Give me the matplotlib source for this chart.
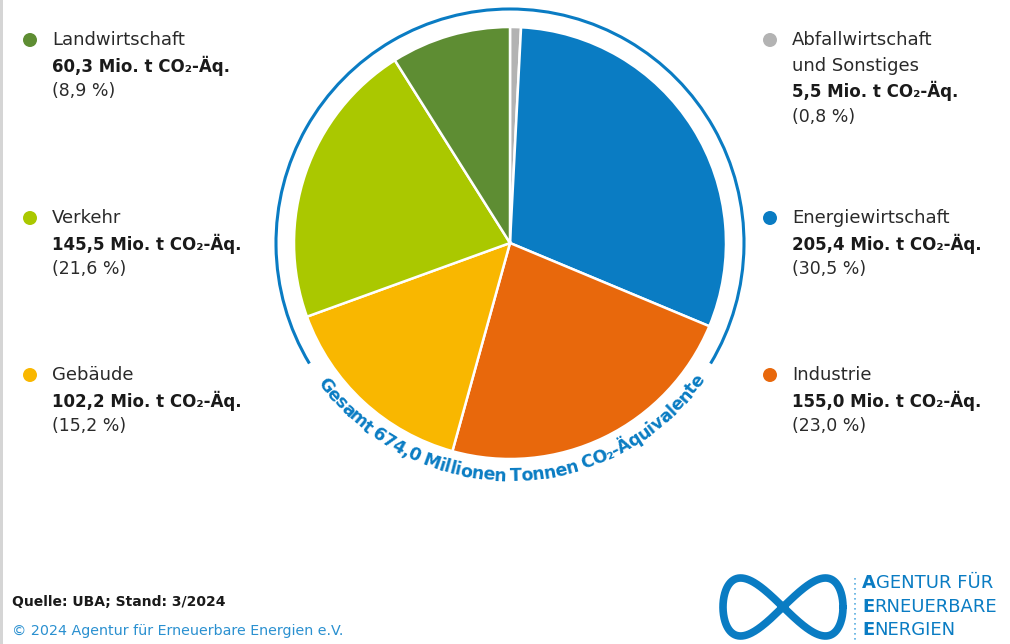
import numpy as np
import matplotlib
matplotlib.use("Agg")
import matplotlib.pyplot as plt
from matplotlib.patches import Arc, Circle, Rectangle

plt.rcParams["font.family"] = ["DejaVu Sans"]

# data (clockwise from top)
sectors = ["Abfallwirtschaft\nund Sonstiges", "Energiewirtschaft", "Industrie",
           "Gebäude", "Verkehr", "Landwirtschaft"]
values = [5.5, 205.4, 155.0, 102.2, 145.5, 60.3]
shares = ["0,8", "30,5", "23,0", "15,2", "21,6", "8,9"]
colors = ["#b3b3b3", "#0a7cc3", "#e8680c", "#f9b700", "#aac800", "#5e8d33"]
total_label = "Gesamt 674,0 Millionen Tonnen CO₂-Äquivalente"

BLUE = "#0a7cc3"
W, H = 1010, 644

fig = plt.figure(figsize=(W / 100, H / 100), dpi=100)
ax = fig.add_axes([0, 0, 1, 1])


def py(y):
    # pixel row (from top) -> data y
    return H - y


cx, cy, r = 510, py(243), 216
ax.pie(values, colors=colors, startangle=90, counterclock=False,
       center=(cx, cy), radius=r, frame=True,
       wedgeprops=dict(edgecolor="white", linewidth=1.8))
ax.set_xlim(0, W)
ax.set_ylim(0, H)
ax.set_aspect("auto")
ax.axis("off")

# outer ring
ax.add_patch(Arc((cx, cy), 2 * 234, 2 * 234, theta1=-31, theta2=211,
                 color=BLUE, lw=2.2))

# curved total label
renderer = fig.canvas.get_renderer()
fs_curve = 12.5
widths = []
for ch in total_label:
    if ch == " ":
        widths.append(5.0)
        continue
    t = ax.text(0, 0, ch, fontsize=fs_curve, fontweight="bold")
    widths.append(t.get_window_extent(renderer).width)
    t.remove()
tot = sum(widths)
a0, a1 = -144.0, -35.0
cum = 0.0
for ch, w in zip(total_label, widths):
    th = np.radians(a0 + (cum + w / 2) / tot * (a1 - a0))
    cum += w
    if ch == " ":
        continue
    ax.text(cx + 233 * np.cos(th), cy + 233 * np.sin(th), ch,
            fontsize=fs_curve, fontweight="bold", color=BLUE,
            rotation=np.degrees(th) + 90, ha="center", va="center",
            rotation_mode="anchor")

# labels
label_pos = {  # sector index -> (x of dot, first line center row)
    5: (30, 40), 4: (30, 218), 3: (30, 375),
    0: (770, 40), 1: (770, 218), 2: (770, 375),
}
step = 25.5
for i, (xd, yc) in label_pos.items():
    ax.add_patch(Circle((xd, py(yc)), 7, color=colors[i], lw=0))
    lines = sectors[i].split("\n")
    y = yc
    for ln in lines:
        ax.text(xd + 22, py(y), ln, fontsize=13, color="#2a2a2a",
                va="center")
        y += step
    ax.text(xd + 22, py(y), f"{values[i]:.1f}".replace(".", ",")
            + " Mio. t CO₂-Äq.", fontsize=12, fontweight="bold",
            color="#1a1a1a", va="center")
    y += step
    ax.text(xd + 22, py(y), f"({shares[i]} %)", fontsize=12.5,
            color="#2a2a2a", va="center")

# footer
ax.text(12, py(606), "Quelle: UBA; Stand: 3/2024", fontsize=10,
        fontweight="bold", color="#1a1a1a", va="baseline")
ax.text(12, py(635), "© 2024 Agentur für Erneuerbare Energien e.V.",
        fontsize=10.3, color="#2a90d0", va="baseline")

# logo
t = np.linspace(0, 2 * np.pi, 400)
ax.plot(783 + 60 * np.cos(t), py(607) + 29 * np.sin(2 * t),
        color=BLUE, lw=5.5, solid_capstyle="round")
ax.plot([855, 855], [py(578), py(640)], color="#5aaee0", lw=1.2,
        linestyle=(0, (1, 2)))
for k, word in enumerate(["AGENTUR FÜR", "ERNEUERBARE", "ENERGIEN"]):
    yy = py(583 + k * 23.5)
    t0 = ax.text(862, yy, word[0], fontsize=13, fontweight="bold",
                 color=BLUE, va="center")
    w0 = t0.get_window_extent(renderer).width
    ax.text(862 + w0, yy, word[1:], fontsize=13, color=BLUE, va="center")

# thin grey border on the left
ax.add_patch(Rectangle((0, 0), 3, H, color="#d5d5d5", lw=0))

fig.savefig("out.png", dpi=100)
